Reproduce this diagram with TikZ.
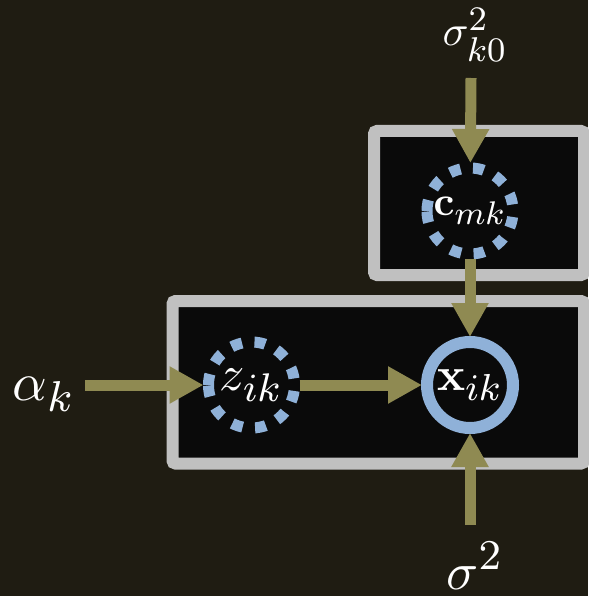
\documentclass[tikz,border=0pt]{standalone}
\usepackage{graphicx}
\usetikzlibrary{arrows.meta,backgrounds}
\DeclareMathSizes{10}{10}{8}{6}
\definecolor{bg}{RGB}{31,28,18}
\definecolor{platefill}{RGB}{10,10,10}
\definecolor{plateedge}{RGB}{192,192,192}
\definecolor{olive}{RGB}{143,138,82}
\definecolor{nodeblue}{RGB}{143,177,216}
\begin{document}
\begin{tikzpicture}[x=1pt,y=-1pt,
  plate/.style={draw=plateedge, fill=platefill, line width=12pt, rounded corners=3pt},
  conn/.style={draw=olive, line width=11pt, -{Triangle[width=35pt,length=34pt]}},
  var/.style={circle, minimum size=96pt, inner sep=0pt, outer sep=0pt, text=white},
  ring/.style={draw=nodeblue, line width=12pt},
  dashring/.style={draw=nodeblue, line width=11pt, dash pattern=on 11pt off 12.5pt},
  lbl/.style={text=white, inner sep=0pt, anchor=base}]
\useasboundingbox (0,0) rectangle (588,596);
% variable nodes
\node[var] (c) at (470,211) {\scalebox{4.1}{$\mathbf{c}_{mk}$}};
\node[var] (z) at (251.5,385) {\scalebox{5.0}{$z_{ik}$}};
\node[var] (x) at (470,385) {\scalebox{4.7}{$\mathbf{x}_{ik}$}};
% labels
\node[lbl] (s0) at (475,46) {\scalebox{4.3}{$\sigma_{k0}^2$}};
\node[lbl] (s) at (475,589) {\scalebox{5.3}{$\sigma^2$}};
\node[lbl] (a) at (44,400) {\scalebox{5.4}{$\alpha_k$}};
% background, plates, rings
\begin{scope}[on background layer]
  \fill[bg] (0,0) rectangle (588,596);
  \draw[plate] (374,131) rectangle (584,275);
  \draw[plate] (172.5,301) rectangle (584,463.5);
  \draw[ring] (x.center) circle[radius=43pt];
  \draw[dashring] ([xshift=-43pt]c.center) arc[start angle=180,end angle=-180,radius=43pt];
  \draw[dashring] ([xshift=-43pt]z.center) arc[start angle=180,end angle=-180,radius=43pt];
\end{scope}
% connectors
\coordinate (s0a) at (471,78);
\coordinate (sa) at (470,525);
\coordinate (aa) at (85,385);
\draw[conn] (s0a) -- (c);
\draw[conn] (c) -- (x);
\draw[conn] (sa) -- (x);
\draw[conn] (aa) -- (z);
\draw[conn] (z) -- (x);
\end{tikzpicture}
\end{document}
